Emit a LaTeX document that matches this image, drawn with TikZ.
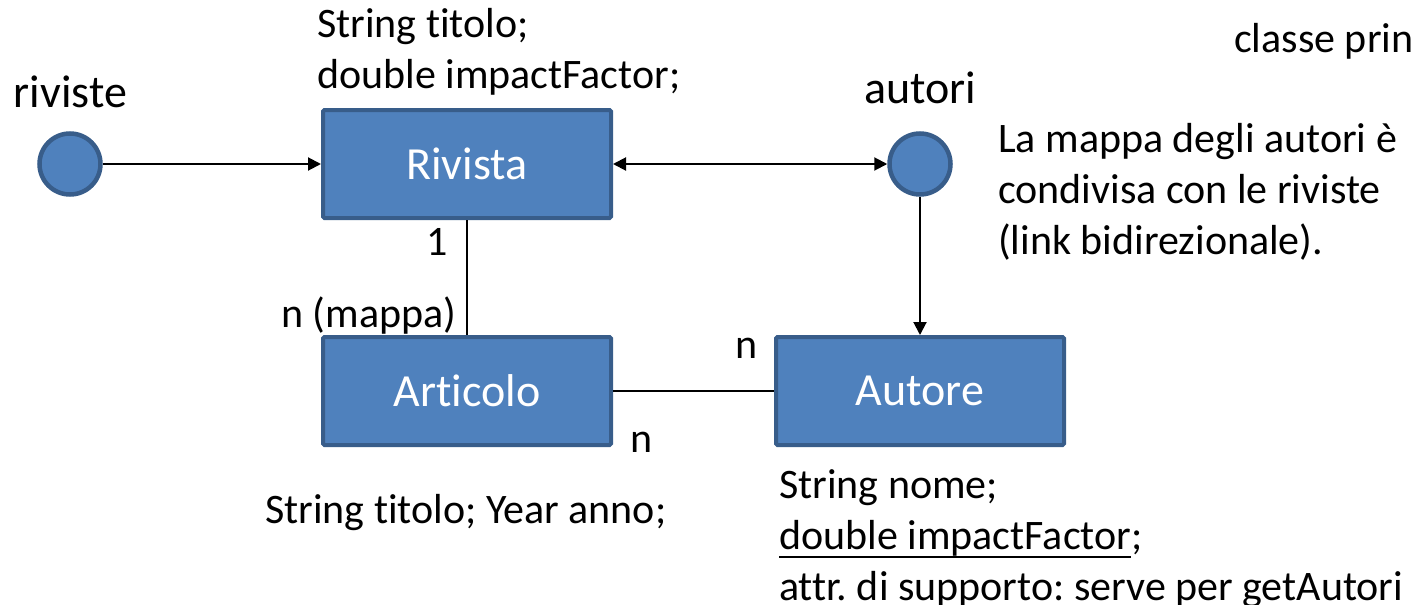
\documentclass[tikz,border=0pt]{standalone}
\usepackage{fontspec}
\setmainfont{Carlito}[Ligatures=NoCommon]
\usetikzlibrary{arrows.meta}
\definecolor{boxfill}{HTML}{4F81BD}
\definecolor{boxline}{HTML}{385D8A}
\newcommand{\myuline}[1]{\setbox0\hbox{#1}\rlap{\rule[-9pt]{\wd0}{2pt}}\box0}
\frenchspacing
\tikzset{
  entity/.style={rectangle, fill=boxfill, draw=boxline, line width=4pt,
    minimum width=288pt, minimum height=108pt, rounded corners=1.5pt,
    text=white, font=\fontsize{46}{55}\selectfont, inner sep=0pt},
  mapdot/.style={circle, fill=boxfill, draw=boxline, line width=4.5pt,
    minimum size=61pt, inner sep=0pt},
  lbl/.style={font=\fontsize{42}{51}\selectfont, inner sep=0pt, anchor=base west, align=left},
  biglbl/.style={font=\fontsize{46}{55}\selectfont, inner sep=0pt, anchor=base},
  link/.style={line width=2pt},
  thinlink/.style={line width=1.5pt},
  tip/.tip={Triangle[length=13pt,width=13pt]},
  arr/.style={link, -tip},
}
\begin{document}
\begin{tikzpicture}[x=1pt,y=-1pt]
\useasboundingbox (0,0) rectangle (1419,605);
% entities
\node[mapdot] (rivdot) at (70,164) {};
\node[mapdot] (autdot) at (920,164) {};
\node[entity] (rivista) at (467,164) {Rivista};
\node[entity] (articolo) at (467,391) {Articolo};
\node[entity] (autore) at (920,391) {Autore};
% labels (multi-line nodes: base = last line)
\node[biglbl] (rivlbl) at (70.5,107) {riviste};
\node[biglbl] (autlbl) at (920,103) {autori};
\node[lbl] (rivattr) at (317,88) {String titolo;\\double impactFactor;};
\node[lbl] (classe) at (1234,52) {classe prin};
\node[lbl] (nota) at (998,254) {La mappa degli autori è\\condivisa con le riviste\\(link bidirezionale).};
\node[lbl] (m1) at (426,255) {1};
\node[lbl] (mmap) at (281,327) {n (mappa)};
\node[lbl] (mn1) at (735,358) {n};
\node[lbl] (mn2) at (630,452) {n};
\node[lbl] (artattr) at (265,523) {String titolo; Year anno;};
\node[lbl] (autattr) at (779,600) {String nome;\\\myuline{double impactFactor};\\attr. di supporto: serve per getAutori};
% connectors
\draw[arr] (rivdot) -- (rivista);
\draw[link, tip-tip] (rivista) -- (autdot);
\draw[arr] (autdot) -- (autore);
\draw[thinlink] (rivista) -- (articolo);
\draw[link] (articolo) -- (autore);
\end{tikzpicture}
\end{document}
